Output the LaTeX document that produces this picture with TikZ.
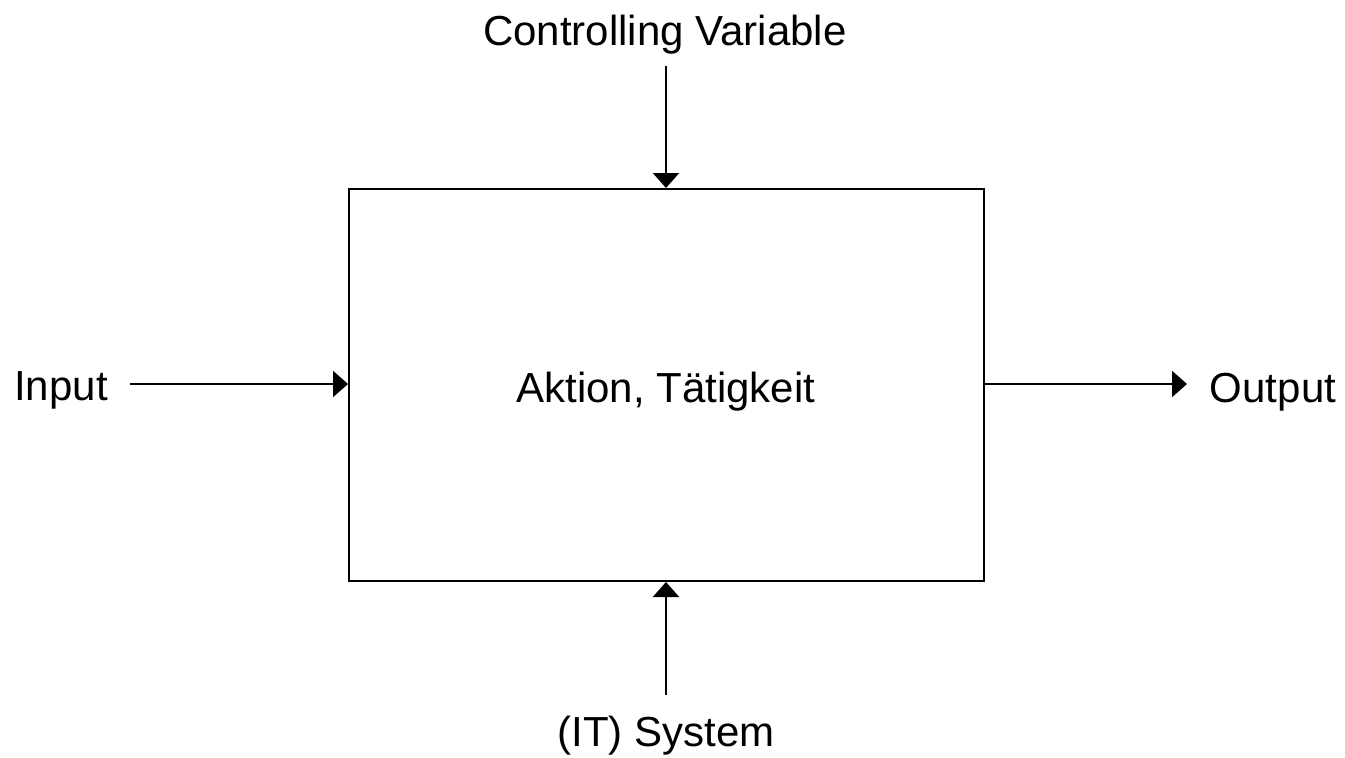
\documentclass[tikz,border=0pt]{standalone}
\usepackage{fontspec}
\setmainfont{Liberation Sans}
\usetikzlibrary{arrows.meta}
\begin{document}
\begin{tikzpicture}[x=1pt,y=-1pt,
  lbl/.style={font=\fontsize{42}{48}\selectfont, inner sep=0pt, anchor=base},
  flow/.style={line width=2.2pt, -{Triangle[length=15pt,width=26pt]}}]
\useasboundingbox (0,0) rectangle (1345,758);
% activity box
\node[draw, line width=2pt, minimum width=635pt, minimum height=392pt, inner sep=0pt]
  (act) at (666.5,385) {};
\node[lbl] (acttext) at (666,402) {Aktion, Tätigkeit};
% labels
\node[lbl] (ctrl) at (665,45) {Controlling Variable};
\node[lbl] (sys) at (666,746) {(IT) System};
\node[lbl] (in) at (61,400) {Input};
\node[lbl] (out) at (1273,402) {Output};
% free ends of the connectors
\coordinate (ctrlEnd) at (666,66);
\coordinate (sysEnd) at (666,695);
\coordinate (inEnd) at (130,384);
\coordinate (outEnd) at (1187,384);
% connectors
\draw[flow] (ctrlEnd) -- (ctrlEnd |- act.north);
\draw[flow] (sysEnd) -- (sysEnd |- act.south);
\draw[flow] (inEnd) -- (act.west |- inEnd);
\draw[flow] (act.east |- outEnd) -- (outEnd);
\end{tikzpicture}
\end{document}
